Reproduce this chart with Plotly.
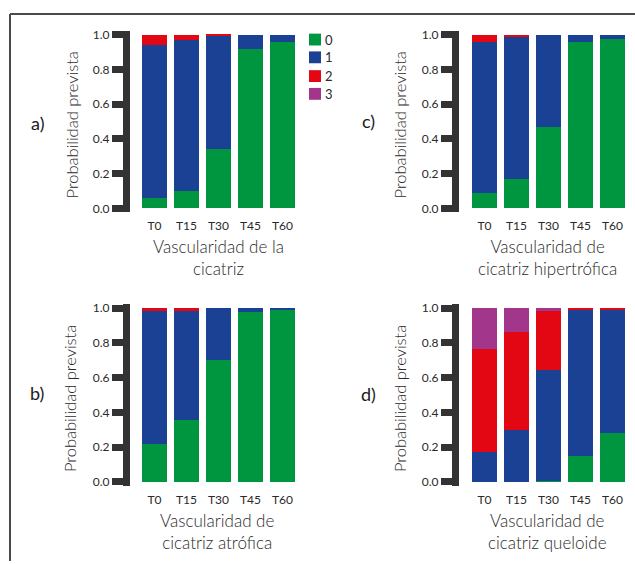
import plotly.graph_objects as go

W, H = 635, 564

categories = ["T0", "T15", "T30", "T45", "T60"]
class_labels = ["0", "1", "2", "3"]
colors = ["#009640", "#1b4194", "#e30613", "#a2368b"]

# Panel a) Vascularidad de la cicatriz
a_vals = [
    [0.06, 0.10, 0.34, 0.92, 0.96],
    [0.88, 0.87, 0.655, 0.08, 0.04],
    [0.06, 0.03, 0.005, 0.0, 0.0],
    [0.0, 0.0, 0.0, 0.0, 0.0],
]
# Panel b) Vascularidad de cicatriz atrófica
b_vals = [
    [0.22, 0.355, 0.70, 0.98, 0.99],
    [0.765, 0.63, 0.30, 0.02, 0.01],
    [0.015, 0.015, 0.0, 0.0, 0.0],
    [0.0, 0.0, 0.0, 0.0, 0.0],
]
# Panel c) Vascularidad de cicatriz hipertrófica
c_vals = [
    [0.09, 0.17, 0.467, 0.955, 0.975],
    [0.87, 0.815, 0.533, 0.045, 0.025],
    [0.04, 0.015, 0.0, 0.0, 0.0],
    [0.0, 0.0, 0.0, 0.0, 0.0],
]
# Panel d) Vascularidad de cicatriz queloide
d_vals = [
    [0.0, 0.0, 0.008, 0.15, 0.28],
    [0.175, 0.30, 0.637, 0.84, 0.71],
    [0.59, 0.565, 0.336, 0.01, 0.01],
    [0.235, 0.135, 0.019, 0.0, 0.0],
]

y_ticks = [0.0, 0.2, 0.4, 0.6, 0.8, 1.0]
y_title = "Probabilidad prevista"

FONT = "Lato"
AX = "#333333"
TXT = "#2a2a2a"

def px_x(x):
    return x / W

def px_y(y):
    return 1 - y / H

panels = [
    ("a", a_vals, "a)", "Vascularidad de la<br>cicatriz", 130, 27, 211, (37, 120), (72, 123), (218, 257), -0.766),
    ("c", c_vals, "c)", "Vascularidad de<br>cicatriz hipertrófica", 459, 27, 211, (368, 118), (400, 123), (547, 257), -0.797),
    ("b", b_vals, "b)", "Vascularidad de<br>cicatriz atrófica", 130, 304, 488, (37, 394), (70, 400), (217, 534), -0.766),
    ("d", d_vals, "d)", "Vascularidad de<br>cicatriz queloide", 459, 304, 488, (368, 395), (400, 400), (547, 534), -0.797),
]

fig = go.Figure()
annotations = []
shapes = []
layout_axes = {}

cat_w = 32.0
for i, (name, vals, letter, xtitle, xl, yt, yb, lpos, ytpos, xtpos, xmin) in enumerate(panels):
    k = "" if i == 0 else str(i + 1)
    xa, ya = "x" + k, "y" + k
    for j, lab in enumerate(class_labels):
        fig.add_trace(go.Bar(
            x=categories, y=vals[j], name=lab, marker_color=colors[j],
            marker_line_width=0, xaxis=xa, yaxis=ya, showlegend=False,
            hoverinfo="x+y+name",
        ))
    xr = xl + (4.5 - xmin) * cat_w
    layout_axes["xaxis" + k] = dict(
        domain=[px_x(xl), px_x(xr)], range=[xmin, 4.5], anchor=ya,
        showline=False, ticks="", showgrid=False, zeroline=False,
        ticklabelstandoff=5,
        tickfont=dict(family=FONT, size=12, color=TXT),
        categoryorder="array", categoryarray=categories,
    )
    layout_axes["yaxis" + k] = dict(
        domain=[px_y(yb), px_y(yt)], range=[-4 / 176, 1 + 4 / 176], anchor=xa,
        showline=True, linewidth=7, linecolor=AX,
        ticks="outside", ticklen=11, tickwidth=7, tickcolor=AX,
        tickvals=y_ticks, tickformat=".1f",
        showgrid=False, zeroline=False,
        tickfont=dict(family=FONT, size=12, color=TXT),
    )
    annotations.append(dict(
        x=px_x(lpos[0]), y=px_y(lpos[1]), xref="paper", yref="paper",
        text=letter, showarrow=False, xanchor="center", yanchor="middle",
        font=dict(family=FONT, size=18, color="#1a1a1a"),
    ))
    annotations.append(dict(
        x=px_x(ytpos[0]), y=px_y(ytpos[1]), xref="paper", yref="paper",
        text=y_title, showarrow=False, textangle=-90,
        xanchor="center", yanchor="middle",
        font=dict(family=FONT, size=16.5, color=TXT, weight=300),
    ))
    annotations.append(dict(
        x=px_x(xtpos[0]), y=px_y(xtpos[1]), xref="paper", yref="paper",
        text=xtitle, showarrow=False, xanchor="center", yanchor="middle",
        font=dict(family=FONT, size=17, color=TXT, weight=300),
    ))

# custom legend
leg_y = [36, 54, 73, 91]
for j, lab in enumerate(class_labels):
    cy = leg_y[j]
    shapes.append(dict(
        type="rect", xref="paper", yref="paper",
        x0=px_x(309), x1=px_x(321), y0=px_y(cy + 6), y1=px_y(cy - 6),
        fillcolor=colors[j], line=dict(width=0),
    ))
    annotations.append(dict(
        x=px_x(323), y=px_y(cy), xref="paper", yref="paper", text=lab,
        showarrow=False, xanchor="left", yanchor="middle",
        font=dict(family=FONT, size=13, color=TXT),
    ))

# outer frame (top and left)
shapes.append(dict(type="line", xref="paper", yref="paper",
                   x0=px_x(10), x1=1, y0=px_y(10), y1=px_y(10),
                   line=dict(color="#4a4a4a", width=2)))
shapes.append(dict(type="line", xref="paper", yref="paper",
                   x0=px_x(10), x1=px_x(10), y0=px_y(10), y1=0,
                   line=dict(color="#4a4a4a", width=2)))

fig.update_layout(
    width=W, height=H, margin=dict(l=0, r=0, t=0, b=0),
    barmode="stack", bargap=1 - 25 / 32,
    plot_bgcolor="white", paper_bgcolor="white",
    showlegend=False, annotations=annotations, shapes=shapes,
    font=dict(family=FONT, color=AX),
    **layout_axes,
)

fig.write_html(
    "out.html",
    config={"displayModeBar": False},
    post_script="document.body.style.margin='0';document.body.style.overflow='hidden';",
)
